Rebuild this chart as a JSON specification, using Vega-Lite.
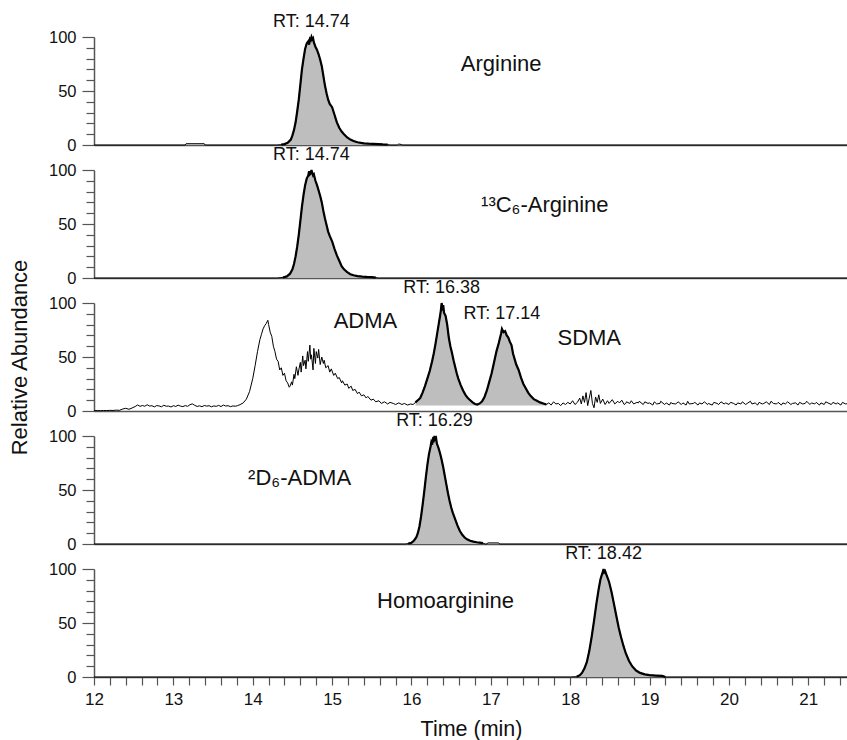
{
  "$schema": "https://vega.github.io/schema/vega-lite/v6.json",
  "padding": {"left": 8, "top": 13, "right": 0, "bottom": 0},
  "background": "#ffffff",
  "spacing": 25,
  "bounds": "flush",
  "config": {
    "view": {"stroke": null},
    "font": "Liberation Sans",
    "text": {"font": "Liberation Sans", "color": "#111"},
    "axis": {
      "grid": false,
      "labelFont": "Liberation Sans",
      "titleFont": "Liberation Sans",
      "titleFontWeight": "normal",
      "labelColor": "#111",
      "titleColor": "#111",
      "domainColor": "#555",
      "domainWidth": 1.5,
      "tickColor": "#555",
      "tickWidth": 1.2,
      "labelFontSize": 16.5,
      "labelFlush": false
    }
  },
  "datasets": {
    "arg": [
      {"t": 12.0, "v": 0}, {"t": 13.15, "v": 0}, {"t": 13.16, "v": 1.2}, {"t": 13.39, "v": 1.2}, {"t": 13.4, "v": 0},
      {"t": 14.3, "v": 0}, {"t": 14.36, "v": 0.3}, {"t": 14.4, "v": 0.8}, {"t": 14.44, "v": 2}, {"t": 14.48, "v": 5},
      {"t": 14.5, "v": 9}, {"t": 14.52, "v": 14}, {"t": 14.54, "v": 21}, {"t": 14.56, "v": 31}, {"t": 14.58, "v": 42},
      {"t": 14.6, "v": 56}, {"t": 14.62, "v": 70}, {"t": 14.64, "v": 80}, {"t": 14.66, "v": 89}, {"t": 14.68, "v": 94},
      {"t": 14.7, "v": 96}, {"t": 14.71, "v": 93}, {"t": 14.72, "v": 98}, {"t": 14.73, "v": 97}, {"t": 14.74, "v": 100},
      {"t": 14.75, "v": 98}, {"t": 14.76, "v": 99}, {"t": 14.77, "v": 95}, {"t": 14.79, "v": 91}, {"t": 14.81, "v": 88},
      {"t": 14.83, "v": 84}, {"t": 14.85, "v": 79}, {"t": 14.87, "v": 73}, {"t": 14.89, "v": 64}, {"t": 14.91, "v": 55},
      {"t": 14.93, "v": 48}, {"t": 14.95, "v": 42}, {"t": 14.97, "v": 38}, {"t": 15.0, "v": 35}, {"t": 15.03, "v": 28},
      {"t": 15.06, "v": 21}, {"t": 15.09, "v": 16}, {"t": 15.12, "v": 12.5}, {"t": 15.15, "v": 10}, {"t": 15.19, "v": 7},
      {"t": 15.23, "v": 5}, {"t": 15.27, "v": 3.7}, {"t": 15.32, "v": 2.5}, {"t": 15.4, "v": 1.5}, {"t": 15.46, "v": 1.2},
      {"t": 15.52, "v": 1}, {"t": 15.58, "v": 0.8}, {"t": 15.64, "v": 0.5}, {"t": 15.7, "v": 0.3}, {"t": 15.74, "v": 0},
      {"t": 15.82, "v": 0}, {"t": 15.84, "v": 0.9}, {"t": 15.87, "v": 0.5}, {"t": 15.89, "v": 0}, {"t": 21.5, "v": 0}
    ],
    "c13arg": [
      {"t": 12.0, "v": 0}, {"t": 14.3, "v": 0}, {"t": 14.38, "v": 0.5}, {"t": 14.43, "v": 1.5}, {"t": 14.47, "v": 4},
      {"t": 14.5, "v": 8}, {"t": 14.52, "v": 13}, {"t": 14.54, "v": 20}, {"t": 14.56, "v": 29}, {"t": 14.58, "v": 40},
      {"t": 14.6, "v": 53}, {"t": 14.62, "v": 66}, {"t": 14.64, "v": 77}, {"t": 14.66, "v": 86}, {"t": 14.68, "v": 92},
      {"t": 14.7, "v": 95}, {"t": 14.71, "v": 99}, {"t": 14.72, "v": 96}, {"t": 14.73, "v": 97}, {"t": 14.74, "v": 100},
      {"t": 14.75, "v": 97}, {"t": 14.76, "v": 95}, {"t": 14.77, "v": 96}, {"t": 14.79, "v": 90}, {"t": 14.81, "v": 86},
      {"t": 14.83, "v": 81}, {"t": 14.85, "v": 76}, {"t": 14.87, "v": 70}, {"t": 14.89, "v": 62}, {"t": 14.91, "v": 55},
      {"t": 14.93, "v": 49}, {"t": 14.95, "v": 43}, {"t": 14.97, "v": 39}, {"t": 15.0, "v": 34}, {"t": 15.03, "v": 27},
      {"t": 15.06, "v": 21}, {"t": 15.09, "v": 16}, {"t": 15.12, "v": 11}, {"t": 15.15, "v": 8}, {"t": 15.19, "v": 5.5},
      {"t": 15.23, "v": 3.5}, {"t": 15.27, "v": 2.5}, {"t": 15.32, "v": 1.8}, {"t": 15.38, "v": 1.3}, {"t": 15.44, "v": 1},
      {"t": 15.5, "v": 0.8}, {"t": 15.55, "v": 0.4}, {"t": 15.58, "v": 0}, {"t": 21.5, "v": 0}
    ],
    "dma": [
      {"t": 12.0, "v": 0.3}, {"t": 12.04, "v": 0.4}, {"t": 12.08, "v": 0.3}, {"t": 12.12, "v": 0.5}, {"t": 12.16, "v": 0.4},
      {"t": 12.2, "v": 0.6}, {"t": 12.24, "v": 0.5}, {"t": 12.28, "v": 0.8}, {"t": 12.32, "v": 0.6}, {"t": 12.36, "v": 1.8},
      {"t": 12.4, "v": 2.5}, {"t": 12.44, "v": 1.6}, {"t": 12.48, "v": 2.8}, {"t": 12.52, "v": 4.2}, {"t": 12.55, "v": 5.6},
      {"t": 12.58, "v": 4.3}, {"t": 12.61, "v": 5.1}, {"t": 12.64, "v": 4.4}, {"t": 12.67, "v": 5.8}, {"t": 12.7, "v": 4.6},
      {"t": 12.73, "v": 4.9}, {"t": 12.76, "v": 3.8}, {"t": 12.79, "v": 5.0}, {"t": 12.82, "v": 4.7}, {"t": 12.85, "v": 3.9},
      {"t": 12.88, "v": 5.3}, {"t": 12.91, "v": 4.4}, {"t": 12.94, "v": 4.6}, {"t": 12.97, "v": 3.7}, {"t": 13.0, "v": 4.9},
      {"t": 13.03, "v": 4.2}, {"t": 13.06, "v": 5.4}, {"t": 13.09, "v": 4.5}, {"t": 13.12, "v": 4.1}, {"t": 13.15, "v": 5.0},
      {"t": 13.18, "v": 4.3}, {"t": 13.21, "v": 5.9}, {"t": 13.24, "v": 6.6}, {"t": 13.27, "v": 5.2}, {"t": 13.3, "v": 4.2},
      {"t": 13.33, "v": 4.8}, {"t": 13.36, "v": 4.0}, {"t": 13.39, "v": 5.1}, {"t": 13.42, "v": 4.5}, {"t": 13.45, "v": 4.9},
      {"t": 13.48, "v": 3.9}, {"t": 13.51, "v": 4.7}, {"t": 13.54, "v": 4.3}, {"t": 13.57, "v": 5.2}, {"t": 13.6, "v": 4.1},
      {"t": 13.63, "v": 5.5}, {"t": 13.66, "v": 4.6}, {"t": 13.69, "v": 4.9}, {"t": 13.72, "v": 4.0}, {"t": 13.75, "v": 4.7},
      {"t": 13.78, "v": 4.4}, {"t": 13.81, "v": 5.0}, {"t": 13.84, "v": 5.9}, {"t": 13.88, "v": 7.5}, {"t": 13.92, "v": 11},
      {"t": 13.96, "v": 18}, {"t": 14.0, "v": 30}, {"t": 14.03, "v": 42}, {"t": 14.06, "v": 55}, {"t": 14.09, "v": 66},
      {"t": 14.11, "v": 71}, {"t": 14.13, "v": 76}, {"t": 14.15, "v": 79}, {"t": 14.17, "v": 81}, {"t": 14.19, "v": 84},
      {"t": 14.2, "v": 80}, {"t": 14.22, "v": 73}, {"t": 14.24, "v": 69}, {"t": 14.26, "v": 60}, {"t": 14.28, "v": 55},
      {"t": 14.3, "v": 48}, {"t": 14.32, "v": 46}, {"t": 14.34, "v": 38}, {"t": 14.36, "v": 40}, {"t": 14.38, "v": 33},
      {"t": 14.4, "v": 35}, {"t": 14.42, "v": 28}, {"t": 14.44, "v": 26}, {"t": 14.46, "v": 22}, {"t": 14.47, "v": 23},
      {"t": 14.49, "v": 27}, {"t": 14.5, "v": 24}, {"t": 14.52, "v": 34}, {"t": 14.53, "v": 30}, {"t": 14.55, "v": 41},
      {"t": 14.57, "v": 33}, {"t": 14.58, "v": 38}, {"t": 14.6, "v": 45}, {"t": 14.61, "v": 36}, {"t": 14.63, "v": 51},
      {"t": 14.64, "v": 42}, {"t": 14.66, "v": 47}, {"t": 14.67, "v": 39}, {"t": 14.69, "v": 55}, {"t": 14.7, "v": 46},
      {"t": 14.72, "v": 61}, {"t": 14.73, "v": 48}, {"t": 14.74, "v": 52}, {"t": 14.76, "v": 38}, {"t": 14.77, "v": 58},
      {"t": 14.79, "v": 44}, {"t": 14.8, "v": 55}, {"t": 14.82, "v": 49}, {"t": 14.83, "v": 57}, {"t": 14.85, "v": 43},
      {"t": 14.87, "v": 50}, {"t": 14.89, "v": 44}, {"t": 14.9, "v": 47}, {"t": 14.92, "v": 40}, {"t": 14.95, "v": 42},
      {"t": 14.97, "v": 36}, {"t": 14.99, "v": 39}, {"t": 15.02, "v": 33}, {"t": 15.04, "v": 35}, {"t": 15.07, "v": 30},
      {"t": 15.09, "v": 31}, {"t": 15.12, "v": 26}, {"t": 15.13, "v": 28}, {"t": 15.16, "v": 24}, {"t": 15.19, "v": 25},
      {"t": 15.21, "v": 21}, {"t": 15.24, "v": 23}, {"t": 15.26, "v": 19}, {"t": 15.29, "v": 20}, {"t": 15.32, "v": 16},
      {"t": 15.34, "v": 17.5}, {"t": 15.37, "v": 14}, {"t": 15.4, "v": 15}, {"t": 15.43, "v": 12}, {"t": 15.45, "v": 13.5},
      {"t": 15.49, "v": 10}, {"t": 15.52, "v": 11}, {"t": 15.55, "v": 8.5}, {"t": 15.59, "v": 9.5}, {"t": 15.62, "v": 7},
      {"t": 15.66, "v": 8.5}, {"t": 15.7, "v": 6.5}, {"t": 15.73, "v": 8}, {"t": 15.77, "v": 7}, {"t": 15.8, "v": 6},
      {"t": 15.84, "v": 7.5}, {"t": 15.88, "v": 6}, {"t": 15.91, "v": 7}, {"t": 15.95, "v": 5.5}, {"t": 15.99, "v": 6.5},
      {"t": 16.02, "v": 6},
      {"t": 16.05, "v": 8}, {"t": 16.08, "v": 10}, {"t": 16.11, "v": 12}, {"t": 16.14, "v": 17}, {"t": 16.17, "v": 23},
      {"t": 16.2, "v": 30}, {"t": 16.23, "v": 37}, {"t": 16.26, "v": 46}, {"t": 16.28, "v": 53}, {"t": 16.3, "v": 61},
      {"t": 16.32, "v": 70}, {"t": 16.34, "v": 79}, {"t": 16.36, "v": 88}, {"t": 16.37, "v": 93}, {"t": 16.38, "v": 100},
      {"t": 16.39, "v": 96}, {"t": 16.4, "v": 98}, {"t": 16.41, "v": 91}, {"t": 16.43, "v": 88}, {"t": 16.45, "v": 80},
      {"t": 16.47, "v": 68}, {"t": 16.49, "v": 60}, {"t": 16.51, "v": 54}, {"t": 16.53, "v": 47}, {"t": 16.55, "v": 41},
      {"t": 16.57, "v": 35}, {"t": 16.59, "v": 30}, {"t": 16.62, "v": 24}, {"t": 16.65, "v": 19}, {"t": 16.68, "v": 15},
      {"t": 16.71, "v": 12}, {"t": 16.74, "v": 10}, {"t": 16.77, "v": 8}, {"t": 16.8, "v": 6.5}, {"t": 16.83, "v": 6},
      {"t": 16.86, "v": 7}, {"t": 16.89, "v": 9}, {"t": 16.92, "v": 13}, {"t": 16.95, "v": 19}, {"t": 16.98, "v": 27},
      {"t": 17.01, "v": 35}, {"t": 17.04, "v": 45}, {"t": 17.07, "v": 55}, {"t": 17.1, "v": 63}, {"t": 17.12, "v": 69},
      {"t": 17.13, "v": 72}, {"t": 17.14, "v": 76}, {"t": 17.16, "v": 73}, {"t": 17.18, "v": 74}, {"t": 17.2, "v": 70},
      {"t": 17.22, "v": 68}, {"t": 17.24, "v": 64}, {"t": 17.26, "v": 61}, {"t": 17.28, "v": 53}, {"t": 17.3, "v": 48},
      {"t": 17.32, "v": 43}, {"t": 17.35, "v": 38}, {"t": 17.38, "v": 31}, {"t": 17.41, "v": 25}, {"t": 17.44, "v": 21},
      {"t": 17.47, "v": 17}, {"t": 17.5, "v": 14}, {"t": 17.54, "v": 11}, {"t": 17.58, "v": 9.5}, {"t": 17.62, "v": 8},
      {"t": 17.66, "v": 7}, {"t": 17.7, "v": 6}, {"t": 17.73, "v": 7.5}, {"t": 17.76, "v": 5.5}, {"t": 17.79, "v": 8.5},
      {"t": 17.82, "v": 6.5}, {"t": 17.85, "v": 7}, {"t": 17.88, "v": 5}, {"t": 17.91, "v": 7.5}, {"t": 17.94, "v": 6},
      {"t": 17.97, "v": 8}, {"t": 18.0, "v": 6.5}, {"t": 18.03, "v": 9.5}, {"t": 18.06, "v": 6}, {"t": 18.09, "v": 8},
      {"t": 18.12, "v": 12}, {"t": 18.14, "v": 6.5}, {"t": 18.16, "v": 14}, {"t": 18.18, "v": 8}, {"t": 18.2, "v": 17},
      {"t": 18.22, "v": 5}, {"t": 18.24, "v": 12}, {"t": 18.26, "v": 19}, {"t": 18.28, "v": 7}, {"t": 18.3, "v": 3},
      {"t": 18.32, "v": 13}, {"t": 18.34, "v": 8}, {"t": 18.36, "v": 15}, {"t": 18.38, "v": 7}, {"t": 18.41, "v": 11},
      {"t": 18.44, "v": 6}, {"t": 18.47, "v": 9.5}, {"t": 18.49, "v": 7}, {"t": 18.53, "v": 10.5}, {"t": 18.55, "v": 8},
      {"t": 18.56, "v": 6.5}, {"t": 18.6, "v": 9}, {"t": 18.62, "v": 7.5}, {"t": 18.65, "v": 10}, {"t": 18.68, "v": 6},
      {"t": 18.7, "v": 7}, {"t": 18.71, "v": 8.5}, {"t": 18.75, "v": 7}, {"t": 18.77, "v": 9.5}, {"t": 18.8, "v": 6.5},
      {"t": 18.84, "v": 8}, {"t": 18.86, "v": 7.5}, {"t": 18.87, "v": 9}, {"t": 18.92, "v": 6}, {"t": 18.94, "v": 8.5},
      {"t": 18.98, "v": 7}, {"t": 19.0, "v": 7.5}, {"t": 19.04, "v": 5.5}, {"t": 19.06, "v": 8.5}, {"t": 19.09, "v": 6.5},
      {"t": 19.13, "v": 7}, {"t": 19.14, "v": 9}, {"t": 19.19, "v": 6}, {"t": 19.21, "v": 7.5}, {"t": 19.25, "v": 5.5},
      {"t": 19.27, "v": 8}, {"t": 19.28, "v": 7}, {"t": 19.33, "v": 6.5}, {"t": 19.36, "v": 8.5}, {"t": 19.4, "v": 6},
      {"t": 19.42, "v": 7.5}, {"t": 19.46, "v": 5.5}, {"t": 19.48, "v": 9}, {"t": 19.5, "v": 6.5}, {"t": 19.55, "v": 7},
      {"t": 19.57, "v": 8}, {"t": 19.61, "v": 5.5}, {"t": 19.63, "v": 7.5}, {"t": 19.66, "v": 6.5}, {"t": 19.69, "v": 8.5},
      {"t": 19.73, "v": 6}, {"t": 19.74, "v": 7}, {"t": 19.79, "v": 5.5}, {"t": 19.81, "v": 8}, {"t": 19.85, "v": 7},
      {"t": 19.87, "v": 6}, {"t": 19.9, "v": 8.5}, {"t": 19.94, "v": 6.5}, {"t": 19.96, "v": 7.5}, {"t": 20.0, "v": 6},
      {"t": 20.02, "v": 8}, {"t": 20.06, "v": 7}, {"t": 20.09, "v": 5.5}, {"t": 20.11, "v": 7.5}, {"t": 20.15, "v": 6.5},
      {"t": 20.17, "v": 8.5}, {"t": 20.21, "v": 6}, {"t": 20.23, "v": 7}, {"t": 20.27, "v": 9}, {"t": 20.29, "v": 6.5},
      {"t": 20.33, "v": 7.5}, {"t": 20.36, "v": 5.5}, {"t": 20.38, "v": 8}, {"t": 20.42, "v": 6.5}, {"t": 20.44, "v": 7},
      {"t": 20.47, "v": 8.5}, {"t": 20.51, "v": 6}, {"t": 20.53, "v": 9}, {"t": 20.56, "v": 7}, {"t": 20.6, "v": 6.5},
      {"t": 20.62, "v": 8}, {"t": 20.66, "v": 5.5}, {"t": 20.68, "v": 7.5}, {"t": 20.71, "v": 6.5}, {"t": 20.74, "v": 8.5},
      {"t": 20.78, "v": 6}, {"t": 20.8, "v": 7}, {"t": 20.84, "v": 7.5}, {"t": 20.87, "v": 5.5}, {"t": 20.89, "v": 8},
      {"t": 20.93, "v": 6.5}, {"t": 20.96, "v": 7}, {"t": 20.98, "v": 9}, {"t": 21.02, "v": 6}, {"t": 21.04, "v": 7.5},
      {"t": 21.08, "v": 6.5}, {"t": 21.1, "v": 8}, {"t": 21.14, "v": 5.5}, {"t": 21.16, "v": 7.5}, {"t": 21.2, "v": 6},
      {"t": 21.22, "v": 8.5}, {"t": 21.26, "v": 7}, {"t": 21.29, "v": 6}, {"t": 21.31, "v": 8}, {"t": 21.35, "v": 6.5},
      {"t": 21.37, "v": 7.5}, {"t": 21.41, "v": 5.5}, {"t": 21.43, "v": 8}, {"t": 21.47, "v": 6.5}, {"t": 21.5, "v": 7}
    ],
    "dmaBase": [
      {"t": 16.03, "t2": 16.82},
      {"t": 16.85, "t2": 17.72}
    ],
    "d6adma": [
      {"t": 12.0, "v": 0}, {"t": 15.92, "v": 0}, {"t": 15.96, "v": 0.4}, {"t": 16.0, "v": 1.2}, {"t": 16.03, "v": 3},
      {"t": 16.06, "v": 6}, {"t": 16.08, "v": 10}, {"t": 16.1, "v": 16}, {"t": 16.12, "v": 25}, {"t": 16.14, "v": 36},
      {"t": 16.16, "v": 48}, {"t": 16.18, "v": 61}, {"t": 16.2, "v": 73}, {"t": 16.22, "v": 83}, {"t": 16.24, "v": 90},
      {"t": 16.25, "v": 94}, {"t": 16.26, "v": 92}, {"t": 16.27, "v": 97}, {"t": 16.28, "v": 96}, {"t": 16.29, "v": 100},
      {"t": 16.3, "v": 97}, {"t": 16.31, "v": 98}, {"t": 16.32, "v": 93}, {"t": 16.34, "v": 89}, {"t": 16.36, "v": 84},
      {"t": 16.38, "v": 78}, {"t": 16.4, "v": 71}, {"t": 16.42, "v": 63}, {"t": 16.44, "v": 55}, {"t": 16.46, "v": 47},
      {"t": 16.48, "v": 40}, {"t": 16.5, "v": 34}, {"t": 16.52, "v": 29}, {"t": 16.55, "v": 23}, {"t": 16.58, "v": 17},
      {"t": 16.61, "v": 12}, {"t": 16.64, "v": 8.5}, {"t": 16.67, "v": 6}, {"t": 16.7, "v": 4.3}, {"t": 16.74, "v": 3},
      {"t": 16.78, "v": 2.2}, {"t": 16.82, "v": 1.6}, {"t": 16.86, "v": 1.2}, {"t": 16.9, "v": 0.8}, {"t": 16.93, "v": 0},
      {"t": 16.95, "v": 0}, {"t": 16.96, "v": 1}, {"t": 17.1, "v": 1}, {"t": 17.11, "v": 0}, {"t": 21.5, "v": 0}
    ],
    "homoarg": [
      {"t": 12.0, "v": 0}, {"t": 18.0, "v": 0}, {"t": 18.08, "v": 0.3}, {"t": 18.12, "v": 1.5}, {"t": 18.15, "v": 4},
      {"t": 18.18, "v": 8}, {"t": 18.21, "v": 14}, {"t": 18.24, "v": 24}, {"t": 18.27, "v": 37}, {"t": 18.3, "v": 52},
      {"t": 18.33, "v": 68}, {"t": 18.36, "v": 82}, {"t": 18.38, "v": 90}, {"t": 18.4, "v": 95}, {"t": 18.41, "v": 97},
      {"t": 18.42, "v": 100}, {"t": 18.43, "v": 97}, {"t": 18.44, "v": 98}, {"t": 18.45, "v": 96}, {"t": 18.47, "v": 92},
      {"t": 18.49, "v": 88}, {"t": 18.52, "v": 79}, {"t": 18.55, "v": 68}, {"t": 18.58, "v": 57}, {"t": 18.61, "v": 46},
      {"t": 18.64, "v": 37}, {"t": 18.67, "v": 29}, {"t": 18.7, "v": 22}, {"t": 18.74, "v": 15}, {"t": 18.78, "v": 10},
      {"t": 18.83, "v": 6}, {"t": 18.88, "v": 3.8}, {"t": 18.94, "v": 2.4}, {"t": 19.0, "v": 1.7}, {"t": 19.08, "v": 1.3},
      {"t": 19.16, "v": 1}, {"t": 19.2, "v": 0}, {"t": 21.5, "v": 0}
    ],
    "marks": [
      {"panel": 1, "t": 14.3}, {"panel": 1, "t": 15.72}, {"panel": 1, "t": 15.8},
      {"panel": 2, "t": 14.3}, {"panel": 2, "t": 15.55},
      {"panel": 3, "t": 16.02}, {"panel": 3, "t": 16.82}, {"panel": 3, "t": 16.85}, {"panel": 3, "t": 17.72},
      {"panel": 4, "t": 15.92}, {"panel": 4, "t": 16.92},
      {"panel": 5, "t": 18.0}, {"panel": 5, "t": 19.55}
    ],
    "rt": [
      {"panel": 1, "t": 14.74, "v": 100, "text": "RT: 14.74"},
      {"panel": 2, "t": 14.74, "v": 100, "text": "RT: 14.74"},
      {"panel": 3, "t": 16.38, "v": 100, "text": "RT: 16.38"},
      {"panel": 3, "t": 17.14, "v": 76, "text": "RT: 17.14"},
      {"panel": 4, "t": 16.29, "v": 100, "text": "RT: 16.29"},
      {"panel": 5, "t": 18.42, "v": 100, "text": "RT: 18.42"}
    ],
    "names": [
      {"panel": 1, "t": 17.13, "v": 75, "text": "Arginine"},
      {"panel": 2, "t": 17.68, "v": 68, "text": "¹³C₆-Arginine"},
      {"panel": 3, "t": 15.42, "v": 83, "text": "ADMA"},
      {"panel": 3, "t": 18.24, "v": 68, "text": "SDMA"},
      {"panel": 4, "t": 14.59, "v": 61, "text": "²D₆-ADMA"},
      {"panel": 5, "t": 16.43, "v": 70, "text": "Homoarginine"}
    ]
  },
  "vconcat": [
    {
      "width": 754, "height": 108,
      "encoding": {
        "x": {"field": "t", "type": "quantitative", "scale": {"domain": [12, 21.5], "nice": false, "zero": false}, "axis": {"ticks": false, "labels": false, "title": null}},
        "y": {"field": "v", "type": "quantitative", "scale": {"domain": [0, 100], "nice": false},
              "axis": {"values": [0, 10, 20, 30, 40, 50, 60, 70, 80, 90, 100], "labelExpr": "datum.value % 50 === 0 ? datum.label : ''", "tickSize": {"condition": {"test": "datum.value % 50 === 0", "value": 12}, "value": 8}, "labelPadding": 6, "title": null}}
      },
      "layer": [
        {"data": {"name": "arg"}, "transform": [{"filter": "datum.t >= 14.36 && datum.t <= 15.7"}], "mark": {"type": "area", "color": "#bebebe"}, "encoding": {"y2": {"datum": 0}}},
        {"data": {"name": "arg"}, "mark": {"type": "line", "color": "#000", "strokeWidth": 1}, "encoding": {}},
        {"data": {"name": "arg"}, "transform": [{"filter": "datum.t >= 14.36 && datum.t <= 15.7"}], "mark": {"type": "line", "color": "#000", "strokeWidth": 2.2}, "encoding": {}},
        {"data": {"name": "marks"}, "transform": [{"filter": "datum.panel === 1"}], "mark": {"type": "rule", "color": "#333", "strokeWidth": 1}, "encoding": {"y": {"datum": -3}, "y2": {"datum": 4}}},
        {"data": {"name": "rt"}, "transform": [{"filter": "datum.panel === 1"}], "mark": {"type": "text", "fontSize": 18, "dy": -15}, "encoding": {"text": {"field": "text"}}},
        {"data": {"name": "names"}, "transform": [{"filter": "datum.panel === 1"}], "mark": {"type": "text", "fontSize": 22}, "encoding": {"text": {"field": "text"}}}
      ]
    },
    {
      "width": 754, "height": 108,
      "encoding": {
        "x": {"field": "t", "type": "quantitative", "scale": {"domain": [12, 21.5], "nice": false, "zero": false}, "axis": {"ticks": false, "labels": false, "title": null}},
        "y": {"field": "v", "type": "quantitative", "scale": {"domain": [0, 100], "nice": false},
              "axis": {"values": [0, 10, 20, 30, 40, 50, 60, 70, 80, 90, 100], "labelExpr": "datum.value % 50 === 0 ? datum.label : ''", "tickSize": {"condition": {"test": "datum.value % 50 === 0", "value": 12}, "value": 8}, "labelPadding": 6, "title": null}}
      },
      "layer": [
        {"data": {"name": "c13arg"}, "transform": [{"filter": "datum.t >= 14.38 && datum.t <= 15.55"}], "mark": {"type": "area", "color": "#bebebe"}, "encoding": {"y2": {"datum": 0}}},
        {"data": {"name": "c13arg"}, "mark": {"type": "line", "color": "#000", "strokeWidth": 1}, "encoding": {}},
        {"data": {"name": "c13arg"}, "transform": [{"filter": "datum.t >= 14.38 && datum.t <= 15.55"}], "mark": {"type": "line", "color": "#000", "strokeWidth": 2.2}, "encoding": {}},
        {"data": {"name": "marks"}, "transform": [{"filter": "datum.panel === 2"}], "mark": {"type": "rule", "color": "#333", "strokeWidth": 1}, "encoding": {"y": {"datum": -3}, "y2": {"datum": 4}}},
        {"data": {"name": "rt"}, "transform": [{"filter": "datum.panel === 2"}], "mark": {"type": "text", "fontSize": 18, "dy": -15}, "encoding": {"text": {"field": "text"}}},
        {"data": {"name": "names"}, "transform": [{"filter": "datum.panel === 2"}], "mark": {"type": "text", "fontSize": 22}, "encoding": {"text": {"field": "text"}}}
      ]
    },
    {
      "width": 754, "height": 108,
      "encoding": {
        "x": {"field": "t", "type": "quantitative", "scale": {"domain": [12, 21.5], "nice": false, "zero": false}, "axis": {"ticks": false, "labels": false, "title": null}},
        "y": {"field": "v", "type": "quantitative", "scale": {"domain": [0, 100], "nice": false},
              "axis": {"values": [0, 10, 20, 30, 40, 50, 60, 70, 80, 90, 100], "labelExpr": "datum.value % 50 === 0 ? datum.label : ''", "tickSize": {"condition": {"test": "datum.value % 50 === 0", "value": 12}, "value": 8}, "labelPadding": 6, "title": "Relative Abundance", "titleFontSize": 22, "titlePadding": 17}}
      },
      "layer": [
        {"data": {"name": "dma"}, "transform": [{"filter": "datum.t >= 16.05 && datum.t <= 17.7"}], "mark": {"type": "area", "color": "#bebebe"}, "encoding": {"y2": {"datum": 5}}},
        {"data": {"name": "dma"}, "mark": {"type": "line", "color": "#000", "strokeWidth": 1}, "encoding": {}},
        {"data": {"name": "dma"}, "transform": [{"filter": "datum.t >= 16.05 && datum.t <= 17.7"}], "mark": {"type": "line", "color": "#000", "strokeWidth": 2.2}, "encoding": {}},
        {"data": {"name": "dmaBase"}, "mark": {"type": "rule", "color": "#000", "strokeWidth": 1.5}, "encoding": {"x2": {"field": "t2"}, "y": {"datum": 5}}},
        {"data": {"name": "marks"}, "transform": [{"filter": "datum.panel === 3"}], "mark": {"type": "rule", "color": "#333", "strokeWidth": 1}, "encoding": {"y": {"datum": -3}, "y2": {"datum": 6}}},
        {"data": {"name": "rt"}, "transform": [{"filter": "datum.panel === 3"}], "mark": {"type": "text", "fontSize": 18, "dy": -15}, "encoding": {"text": {"field": "text"}}},
        {"data": {"name": "names"}, "transform": [{"filter": "datum.panel === 3"}], "mark": {"type": "text", "fontSize": 22}, "encoding": {"text": {"field": "text"}}}
      ]
    },
    {
      "width": 754, "height": 108,
      "encoding": {
        "x": {"field": "t", "type": "quantitative", "scale": {"domain": [12, 21.5], "nice": false, "zero": false}, "axis": {"ticks": false, "labels": false, "title": null}},
        "y": {"field": "v", "type": "quantitative", "scale": {"domain": [0, 100], "nice": false},
              "axis": {"values": [0, 10, 20, 30, 40, 50, 60, 70, 80, 90, 100], "labelExpr": "datum.value % 50 === 0 ? datum.label : ''", "tickSize": {"condition": {"test": "datum.value % 50 === 0", "value": 12}, "value": 8}, "labelPadding": 6, "title": null}}
      },
      "layer": [
        {"data": {"name": "d6adma"}, "transform": [{"filter": "datum.t >= 15.96 && datum.t <= 16.9"}], "mark": {"type": "area", "color": "#bebebe"}, "encoding": {"y2": {"datum": 0}}},
        {"data": {"name": "d6adma"}, "mark": {"type": "line", "color": "#000", "strokeWidth": 1}, "encoding": {}},
        {"data": {"name": "d6adma"}, "transform": [{"filter": "datum.t >= 15.96 && datum.t <= 16.9"}], "mark": {"type": "line", "color": "#000", "strokeWidth": 2.2}, "encoding": {}},
        {"data": {"name": "marks"}, "transform": [{"filter": "datum.panel === 4"}], "mark": {"type": "rule", "color": "#333", "strokeWidth": 1}, "encoding": {"y": {"datum": -3}, "y2": {"datum": 4}}},
        {"data": {"name": "rt"}, "transform": [{"filter": "datum.panel === 4"}], "mark": {"type": "text", "fontSize": 18, "dy": -15}, "encoding": {"text": {"field": "text"}}},
        {"data": {"name": "names"}, "transform": [{"filter": "datum.panel === 4"}], "mark": {"type": "text", "fontSize": 22}, "encoding": {"text": {"field": "text"}}}
      ]
    },
    {
      "width": 754, "height": 108,
      "encoding": {
        "x": {"field": "t", "type": "quantitative", "scale": {"domain": [12, 21.5], "nice": false, "zero": false},
              "axis": {"values": [12, 12.2, 12.4, 12.6, 12.8, 13, 13.2, 13.4, 13.6, 13.8, 14, 14.2, 14.4, 14.6, 14.8, 15, 15.2, 15.4, 15.6, 15.8, 16, 16.2, 16.4, 16.6, 16.8, 17, 17.2, 17.4, 17.6, 17.8, 18, 18.2, 18.4, 18.6, 18.8, 19, 19.2, 19.4, 19.6, 19.8, 20, 20.2, 20.4, 20.6, 20.8, 21, 21.2, 21.4],
                       "labelExpr": "datum.value % 1 === 0 ? format(datum.value, 'd') : ''", "tickSize": 8, "labelPadding": 6, "labelFontSize": 17, "title": "Time (min)", "titleFontSize": 21.5, "titlePadding": 11}},
        "y": {"field": "v", "type": "quantitative", "scale": {"domain": [0, 100], "nice": false},
              "axis": {"values": [0, 10, 20, 30, 40, 50, 60, 70, 80, 90, 100], "labelExpr": "datum.value % 50 === 0 ? datum.label : ''", "tickSize": {"condition": {"test": "datum.value % 50 === 0", "value": 12}, "value": 8}, "labelPadding": 6, "title": null}}
      },
      "layer": [
        {"data": {"name": "homoarg"}, "transform": [{"filter": "datum.t >= 18.08 && datum.t <= 19.2"}], "mark": {"type": "area", "color": "#bebebe"}, "encoding": {"y2": {"datum": 0}}},
        {"data": {"name": "homoarg"}, "mark": {"type": "line", "color": "#000", "strokeWidth": 1}, "encoding": {}},
        {"data": {"name": "homoarg"}, "transform": [{"filter": "datum.t >= 18.08 && datum.t <= 19.2"}], "mark": {"type": "line", "color": "#000", "strokeWidth": 2.2}, "encoding": {}},
        {"data": {"name": "marks"}, "transform": [{"filter": "datum.panel === 5"}], "mark": {"type": "rule", "color": "#333", "strokeWidth": 1}, "encoding": {"y": {"datum": -3}, "y2": {"datum": 4}}},
        {"data": {"name": "rt"}, "transform": [{"filter": "datum.panel === 5"}], "mark": {"type": "text", "fontSize": 18, "dy": -15}, "encoding": {"text": {"field": "text"}}},
        {"data": {"name": "names"}, "transform": [{"filter": "datum.panel === 5"}], "mark": {"type": "text", "fontSize": 22}, "encoding": {"text": {"field": "text"}}}
      ]
    }
  ]
}
